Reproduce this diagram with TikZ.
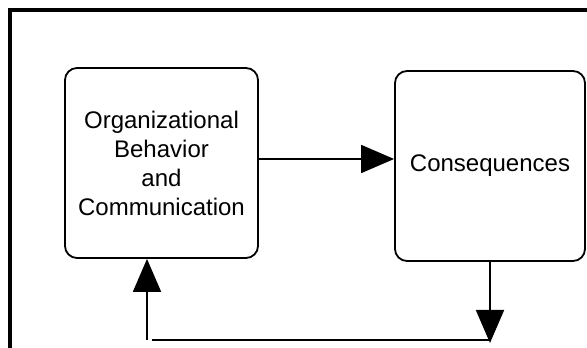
\documentclass[tikz,border=0pt]{standalone}
\usepackage{fontspec}
\setmainfont{Liberation Sans}
\usetikzlibrary{arrows.meta,calc}

\begin{document}
\begin{tikzpicture}[x=1pt,y=1pt,
        box/.style={draw, line width=1.8pt, rounded corners=12pt, align=center,
            font=\fontsize{24}{29}\selectfont},
        arr/.style={line width=1.8pt, -{Triangle[length=33pt,width=28pt]}}]
            \useasboundingbox (0,0) rectangle (587,348);
            \clip (0,0) rectangle (587,348);
            \draw [line width=3.5pt] (10,-20) -- (10,338) -- (620,338);

            \node (org) at (161.5,185) [box, minimum width=193pt, minimum height=190pt]
                {Organizational\\Behavior\\and\\Communication};
            \node (cons) at (490,182) [box, minimum width=190pt, minimum height=190pt]
                {Consequences};

            \coordinate (down) at (cons.south |- 0,5);
            \coordinate (up) at ([xshift=-14.5pt]org.south |- 0,8);

            \draw [arr] ([yshift=4pt]org.east) -- ([yshift=4pt]org.east -| cons.west);
            \draw [arr] (cons.south) -- (down);
            \draw [line width=1.8pt] (down |- up) -- ([xshift=5pt]up);
            \draw [arr] (up) -- ([xshift=-14.5pt]org.south);
        \end{tikzpicture}
\end{document}
